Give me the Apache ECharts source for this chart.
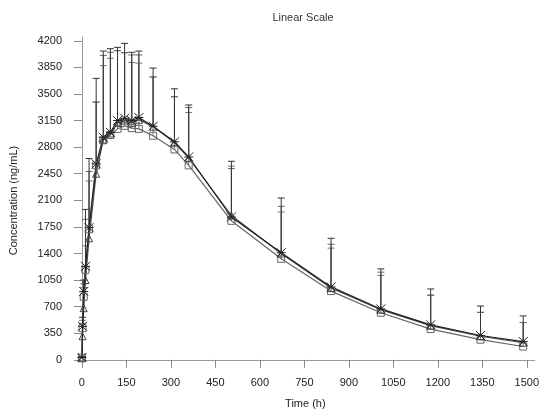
<!DOCTYPE html>
<html>
<head>
<meta charset="utf-8">
<script src="https://cdn.jsdelivr.net/npm/echarts@6/dist/echarts.min.js"></script>
<style>
html,body{margin:0;padding:0;background:#fff;}
#chart{width:542px;height:414px;}
</style>
</head>
<body>
<div id="chart"></div>
<script>
var times = [0, 2, 6, 12, 24, 48, 72, 96, 120, 144, 168, 192, 240, 312, 360, 504, 672, 840, 1008, 1176, 1344, 1488];

var crossMean = [30, 440, 900, 1230, 1740, 2580, 2930, 2995, 3150, 3180, 3150, 3190, 3075, 2870, 2670, 1880, 1410, 960, 670, 460, 320, 240];
var triMean   = [20, 310, 680, 1050, 1600, 2450, 2900, 2980, 3120, 3150, 3120, 3160, 3070, 2860, 2660, 1900, 1400, 945, 660, 450, 310, 225];
var sqMean    = [30, 417, 830, 1185, 1720, 2560, 2890, 2960, 3040, 3080, 3050, 3040, 2950, 2770, 2560, 1830, 1330, 905, 620, 405, 265, 175];

var crossUpper = [40, 560, 1050, 1980, 2650, 3705, 4065, 4096, 4114, 4166, 4049, 4065, 3841, 3568, 3355, 2614, 2130, 1600, 1197, 933, 708, 578];
var triUpper   = [35, 480, 950, 1850, 2480, 3394, 4008, 4049, 4070, 4044, 4014, 4014, 3724, 3464, 3321, 2519, 2021, 1522, 1154, 851, 625, 491];
var sqUpper    = [45, 520, 1000, 1500, 2355, 3394, 3873, 3970, 4070, 4044, 3914, 3906, 3724, 3464, 3256, 2550, 1947, 1470, 1111, 851, 625, 491];

var xTicks = [0, 150, 300, 450, 600, 750, 900, 1050, 1200, 1350, 1500];
var yTicks = [0, 350, 700, 1050, 1400, 1750, 2100, 2450, 2800, 3150, 3500, 3850, 4200];

var FONT = "'Liberation Sans','Arimo',sans-serif";

function pts(mean){ return times.map(function(t,i){ return [t, mean[i]]; }); }
function errData(mean, up){ return times.map(function(t,i){ return [t, mean[i], up[i]]; }); }

function errSeries(mean, up, color){
  return {
    type: 'custom',
    data: errData(mean, up),
    z: 1,
    silent: true,
    encode: {x: 0, y: [1, 2]},
    renderItem: function(params, api){
      var x = api.value(0);
      var lo = api.coord([x, api.value(1)]);
      var hi = api.coord([x, api.value(2)]);
      var w = 3.5;
      return {
        type: 'group',
        children: [
          {type: 'line', shape: {x1: lo[0], y1: lo[1], x2: hi[0], y2: hi[1]}, style: {stroke: color, lineWidth: 1}},
          {type: 'line', shape: {x1: hi[0]-w, y1: hi[1], x2: hi[0]+w, y2: hi[1]}, style: {stroke: color, lineWidth: 1}}
        ]
      };
    }
  };
}

function lineSeries(mean, symbol, size, color){
  return {
    type: 'line',
    data: pts(mean),
    z: 3,
    symbol: symbol,
    symbolSize: size,
    showAllSymbol: true,
    lineStyle: {color: color, width: 1.2},
    itemStyle: {color: 'none', borderColor: color, borderWidth: 1},
    emphasis: {disabled: true}
  };
}

function plain(v){ return String(v); }

var chart = echarts.init(document.getElementById('chart'), null, {renderer: 'canvas'});
chart.setOption({
  animation: false,
  backgroundColor: '#fff',
  title: {
    text: 'Linear Scale',
    left: 298, top: 7, textAlign: 'center',
    textStyle: {fontFamily: FONT, fontSize: 11, fontWeight: 'normal', color: '#333'}
  },
  grid: {left: 76, right: 2, top: 37, bottom: 46, containLabel: false},
  xAxis: {
    type: 'value', min: -20, max: 1527,
    name: 'Time (h)', nameLocation: 'middle', nameGap: 34,
    nameTextStyle: {fontFamily: FONT, fontSize: 11, color: '#222'},
    axisLine: {show: true, lineStyle: {color: '#999', width: 1}},
    axisTick: {show: true, length: 8, customValues: xTicks, lineStyle: {color: '#888'}},
    axisLabel: {customValues: xTicks, formatter: plain, margin: 13, fontFamily: FONT, fontSize: 11, color: '#222'},
    splitLine: {show: false}
  },
  yAxis: {
    type: 'value', min: -55, max: 4250,
    name: 'Concentration (ng/mL)', nameLocation: 'middle', nameGap: 57, nameRotate: 90,
    nameTextStyle: {fontFamily: FONT, fontSize: 11, color: '#222'},
    axisLine: {show: true, lineStyle: {color: '#999', width: 1}},
    axisTick: {show: true, length: 8, customValues: yTicks, lineStyle: {color: '#888'}},
    axisLabel: {customValues: yTicks, formatter: plain, margin: 14, fontFamily: FONT, fontSize: 11, color: '#222'},
    splitLine: {show: false}
  },
  series: [
    errSeries(sqMean, sqUpper, '#777'),
    errSeries(triMean, triUpper, '#666'),
    errSeries(crossMean, crossUpper, '#333'),
    lineSeries(sqMean, 'rect', 7, '#666'),
    lineSeries(triMean, 'triangle', 7, '#444'),
    lineSeries(crossMean, 'path://M0,0L10,10M10,0L0,10M0,5L10,5', 9, '#222')
  ]
});
</script>
</body>
</html>
